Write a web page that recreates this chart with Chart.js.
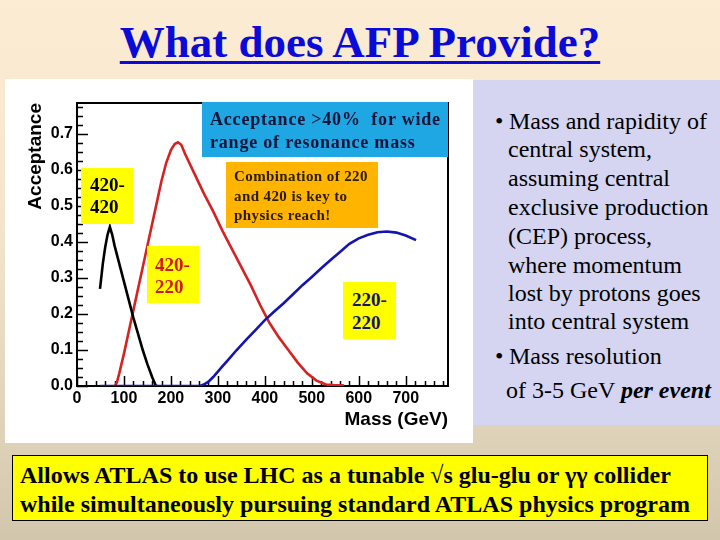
<!DOCTYPE html>
<html>
<head>
<meta charset="utf-8">
<script src="https://cdn.jsdelivr.net/npm/chart.js@4/dist/chart.umd.min.js"></script>
<style>
  html, body { margin: 0; padding: 0; }
  body { width: 720px; height: 540px; position: relative; overflow: hidden;
         background: linear-gradient(to bottom, #FCECD4 0%, #F2E4CA 45%, #DED2B8 80%, #D2C7AD 100%);
         font-family: "Liberation Serif", "Times New Roman", serif; }
  .abs { position: absolute; white-space: pre; }
  #title { left: 0; width: 720px; top: 20px; text-align: center; font-weight: bold; font-size: 45px;
           line-height: 45px; color: #0B0BD9; text-decoration: underline; text-decoration-thickness: 3px;
           text-underline-offset: 4px; }
  #whitebox { left: 5px; top: 79px; width: 468px; height: 364px; background: #fff; }
  #chartwrap { left: 5px; top: 79px; width: 468px; height: 364px; }
  #panel { left: 473px; top: 80px; width: 247px; height: 345px; background: #D5D5F1; }
  .pl { font-size: 24px; line-height: 24px; color: #000; }
  #bottombox { left: 12px; top: 455px; width: 694px; height: 64px; background: #FFFF00; border: 1px solid #000; }
  .bl { font-size: 24px; line-height: 24px; font-weight: bold; color: #000; }
  .box { position: absolute; }
  .lab { font-size: 19px; line-height: 19px; font-weight: bold; }
</style>
</head>
<body>
<div id="title" class="abs">What does AFP Provide?</div>
<div id="whitebox" class="abs"></div>
<div id="chartwrap" class="abs"><canvas id="c" width="468" height="364"></canvas></div>

<!-- annotation boxes on the chart -->
<div class="box" style="left:202px;top:102px;width:246px;height:55px;background:#1FA7E3;"></div>
<div class="abs" style="left:210px;top:110px;font-size:18px;line-height:18px;font-weight:bold;letter-spacing:0.8px;color:#14143A;">Acceptance &gt;40%  for wide</div>
<div class="abs" style="left:210px;top:133px;font-size:18px;line-height:18px;font-weight:bold;letter-spacing:0.8px;color:#14143A;">range of resonance mass</div>

<div class="box" style="left:226px;top:162px;width:152px;height:66px;background:#FFB400;"></div>
<div class="abs" style="left:234px;top:169px;font-size:15px;line-height:15px;font-weight:bold;letter-spacing:0.4px;color:#2A1A00;">Combination of 220</div>
<div class="abs" style="left:234px;top:189px;font-size:15px;line-height:15px;font-weight:bold;letter-spacing:0.4px;color:#2A1A00;">and 420 is key to</div>
<div class="abs" style="left:234px;top:208px;font-size:15px;line-height:15px;font-weight:bold;letter-spacing:0.4px;color:#2A1A00;">physics reach!</div>

<div class="box" style="left:81px;top:168px;width:52px;height:56px;background:#FFFF00;"></div>
<div class="abs lab" style="left:90px;top:175px;color:#000;">420-</div>
<div class="abs lab" style="left:90px;top:197px;color:#000;">420</div>

<div class="box" style="left:147px;top:246px;width:52px;height:57px;background:#FFFF00;"></div>
<div class="abs lab" style="left:155px;top:255px;color:#D01818;">420-</div>
<div class="abs lab" style="left:155px;top:277px;color:#D01818;">220</div>

<div class="box" style="left:343px;top:282px;width:53px;height:57px;background:#FFFF00;"></div>
<div class="abs lab" style="left:352px;top:290px;color:#141470;">220-</div>
<div class="abs lab" style="left:352px;top:313px;color:#141470;">220</div>

<!-- right panel -->
<div id="panel" class="abs"></div>
<div class="abs pl" style="left:495px;top:109px;">•</div>
<div class="abs pl" style="left:509px;top:109px;">Mass and rapidity of</div>
<div class="abs pl" style="left:508px;top:137px;">central system,</div>
<div class="abs pl" style="left:508px;top:166px;">assuming central</div>
<div class="abs pl" style="left:508px;top:195px;">exclusive production</div>
<div class="abs pl" style="left:508px;top:224px;">(CEP) process,</div>
<div class="abs pl" style="left:508px;top:253px;">where momentum</div>
<div class="abs pl" style="left:508px;top:281px;">lost by protons goes</div>
<div class="abs pl" style="left:508px;top:309px;">into central system</div>
<div class="abs pl" style="left:495px;top:344px;">•</div>
<div class="abs pl" style="left:509px;top:344px;">Mass resolution</div>
<div class="abs pl" style="left:506px;top:378px;">of 3-5 GeV <b><i>per event</i></b></div>

<!-- bottom box -->
<div id="bottombox" class="abs"></div>
<div class="abs bl" style="left:20px;top:463px;">Allows ATLAS to use LHC as a tunable √s glu-glu or γγ collider</div>
<div class="abs bl" style="left:20px;top:492px;">while simultaneously pursuing standard ATLAS physics program</div>

<script>
// ---- data ----
const mass420_420 = [49, 55, 60, 65, 70, 75, 80, 90, 100, 110, 120, 130, 140, 150, 160, 168, 172];
const acc420_420  = [0.27, 0.34, 0.385, 0.42, 0.442, 0.42, 0.39, 0.34, 0.29, 0.24, 0.19, 0.145, 0.10, 0.06, 0.025, 0.0, 0.0];

const mass420_220 = [81, 85, 90, 100, 110, 120, 130, 140, 150, 160, 170, 180, 190, 200, 208, 215, 222, 230, 250, 270, 290, 310, 330, 350, 370, 390, 410, 430, 450, 470, 490, 510, 530, 550, 568];
const acc420_220  = [0.0, 0.01, 0.035, 0.09, 0.15, 0.21, 0.27, 0.33, 0.39, 0.45, 0.51, 0.57, 0.62, 0.655, 0.672, 0.677, 0.67, 0.645, 0.59, 0.535, 0.485, 0.43, 0.38, 0.33, 0.28, 0.225, 0.175, 0.135, 0.10, 0.065, 0.035, 0.015, 0.004, 0.002, 0.002];

const mass220_220 = [49, 100, 150, 200, 250, 262, 270, 280, 290, 300, 310, 320, 340, 360, 380, 400, 420, 440, 460, 480, 500, 520, 540, 560, 580, 600, 620, 640, 660, 680, 700, 722];
const acc220_220  = [0, 0, 0, 0, 0, 0, 0.004, 0.012, 0.025, 0.04, 0.055, 0.07, 0.10, 0.128, 0.155, 0.183, 0.207, 0.23, 0.255, 0.28, 0.303, 0.327, 0.35, 0.372, 0.395, 0.41, 0.42, 0.427, 0.429, 0.426, 0.418, 0.405];

const massTicks = [0, 100, 200, 300, 400, 500, 600, 700];
const accTicks  = [0.0, 0.1, 0.2, 0.3, 0.4, 0.5, 0.6, 0.7];
const massMax = 790;
const accMax = 0.786;

function pts(xs, ys) { return xs.map((x, i) => ({ x: x, y: ys[i] })); }

const frameTicks = {
  id: 'frameTicks',
  beforeDatasetsDraw(chart) {
    const { ctx, chartArea: a, scales } = chart;
    const xs = scales.x, ys = scales.y;
    ctx.save();
    ctx.strokeStyle = '#000';
    ctx.lineWidth = 1.5;
    ctx.beginPath();
    for (let i = 0; i * 0.025 <= accMax; i++) {
      const py = Math.round(ys.getPixelForValue(i * 0.025)) + 0.5;
      const len = (i % 4 === 0) ? 11 : 6;
      ctx.moveTo(a.left, py); ctx.lineTo(a.left + len, py);
    }
    for (let i = 0; i * 20 <= massMax; i++) {
      const px = Math.round(xs.getPixelForValue(i * 20)) + 0.5;
      const len = (i % 5 === 0) ? 10 : 5;
      ctx.moveTo(px, a.bottom); ctx.lineTo(px, a.bottom - len);
    }
    ctx.stroke();
    ctx.lineWidth = 2;
    ctx.strokeRect(a.left, a.top, a.right - a.left, a.bottom - a.top);
    ctx.restore();
  }
};

const tickFont = { family: 'Liberation Sans', size: 16, weight: 'bold' };
const titleFont = { family: 'Liberation Sans', size: 19, weight: 'bold' };

new Chart(document.getElementById('c'), {
  type: 'scatter',
  data: {
    datasets: [
      { label: '220-220', data: pts(mass220_220, acc220_220), showLine: true, borderColor: '#1414B0', borderWidth: 2.6, pointRadius: 0, tension: 0 },
      { label: '420-420', data: pts(mass420_420, acc420_420), showLine: true, borderColor: '#000000', borderWidth: 2.6, pointRadius: 0, tension: 0 },
      { label: '420-220', data: pts(mass420_220, acc420_220), showLine: true, borderColor: '#D42323', borderWidth: 2.6, pointRadius: 0, tension: 0 }
    ]
  },
  options: {
    responsive: false,
    animation: false,
    devicePixelRatio: 1,
    layout: { padding: { left: 0, top: 24, right: 25, bottom: 0 } },
    plugins: { legend: { display: false }, tooltip: { enabled: false } },
    scales: {
      x: {
        type: 'linear', position: 'bottom', min: 0, max: massMax,
        grid: { display: false, drawTicks: false },
        border: { display: false },
        afterBuildTicks: (s) => { s.ticks = massTicks.map(v => ({ value: v })); },
        afterFit: (s) => { s.height = 57; },
        ticks: { font: tickFont, color: '#000', padding: 3, maxRotation: 0, autoSkip: false },
        title: { display: true, text: 'Mass (GeV)', align: 'end', color: '#000',
                 font: titleFont, padding: { top: 0, bottom: 12 } }
      },
      y: {
        type: 'linear', min: 0, max: accMax,
        grid: { display: false, drawTicks: false },
        border: { display: false },
        afterBuildTicks: (s) => { s.ticks = accTicks.map(v => ({ value: v })); },
        afterFit: (s) => { s.width = 72; },
        ticks: { font: tickFont, color: '#000', padding: 4, autoSkip: false, callback: (v) => Number(v).toFixed(1) },
        title: { display: true, text: 'Acceptance', align: 'end', color: '#000',
                 font: titleFont, padding: { top: 19, bottom: 0 } }
      }
    }
  },
  plugins: [frameTicks]
});
</script>
</body>
</html>
